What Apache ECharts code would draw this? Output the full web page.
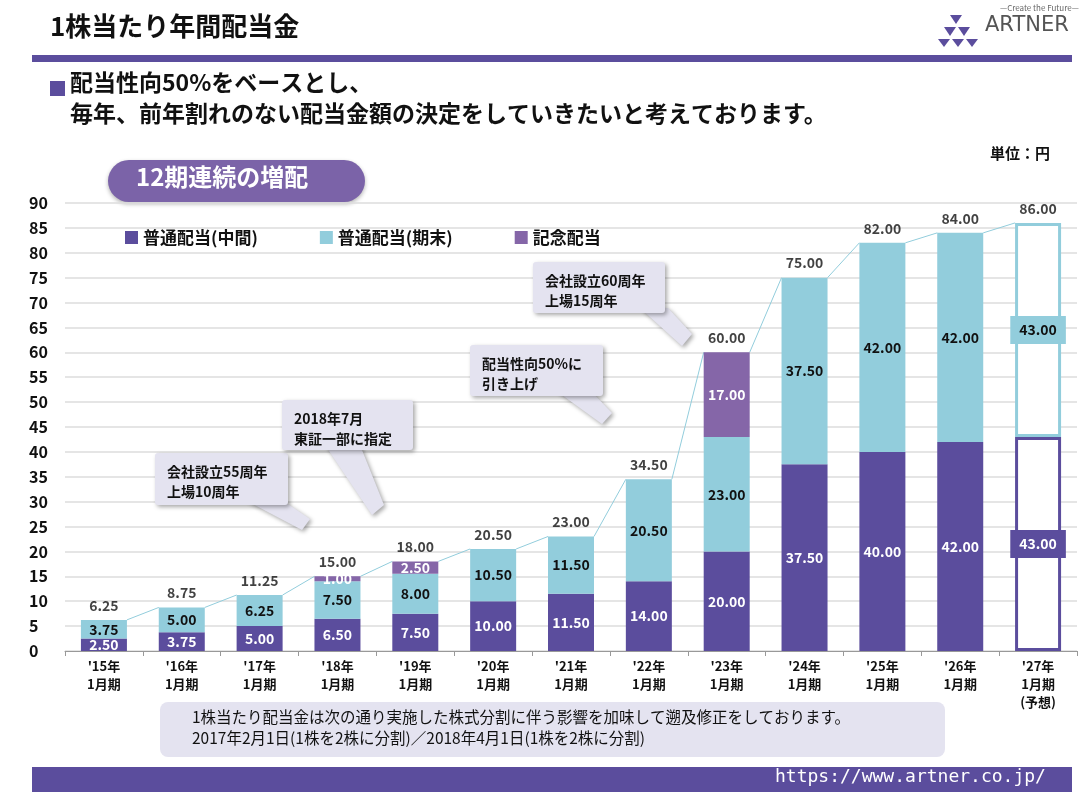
<!DOCTYPE html>
<html><head><meta charset="utf-8">
<script src="https://cdn.jsdelivr.net/npm/echarts@6/dist/echarts.min.js"></script>
<style>html,body{margin:0;padding:0;background:#fff}#c{width:1092px;height:792px}</style>
</head><body><div id="c"></div>
<script>
const categories = ["'15年\n1月期","'16年\n1月期","'17年\n1月期","'18年\n1月期","'19年\n1月期","'20年\n1月期","'21年\n1月期","'22年\n1月期","'23年\n1月期","'24年\n1月期","'25年\n1月期","'26年\n1月期","'27年\n1月期\n(予想)"];
const interim = [2.50,3.75,5.00,6.50,7.50,10.00,11.50,14.00,20.00,37.50,40.00,42.00,43.00];
const finalDiv = [3.75,5.00,6.25,7.50,8.00,10.50,11.50,20.50,23.00,37.50,42.00,42.00,43.00];
const commem = [0,0,0,1.00,2.50,0,0,0,17.00,0,0,0,0];
const totals = [6.25,8.75,11.25,15.00,18.00,20.50,23.00,34.50,60.00,75.00,82.00,84.00,86.00];

const C1='#5b4d9d', C2='#92cddc', C3='#8566a8', FONT='"Noto Sans CJK JP","Noto Sans",sans-serif';
const last = categories.length-1;
const BW = 46;
function mk(arr,color,txt,forecastBg){
  return arr.map((v,i)=>{
    if(i===last){
      return {value:v,itemStyle:{color:'#fff',borderColor:color,borderWidth:3},
        label:{show:true,color:txt,backgroundColor:forecastBg,padding:[8,9,6,9]}};
    }
    return {value:v,itemStyle:{color:color}};
  });
}
const chart = echarts.init(document.getElementById('c'));
function callout(x,y,w,h,poly,text){
  return [
    {type:'polygon',shape:{points:poly},style:{fill:'#e4e3f0',shadowBlur:4,shadowOffsetX:2,shadowOffsetY:2,shadowColor:'rgba(0,0,0,0.35)'},z:10},
    {type:'rect',shape:{x:x,y:y,width:w,height:h,r:3},style:{fill:'#e4e3f0',shadowBlur:4,shadowOffsetX:2,shadowOffsetY:2,shadowColor:'rgba(0,0,0,0.35)'},z:10},
    {type:'text',x:x+12,y:y+9,style:{text:text,font:'bold 14px '+FONT,fill:'#111',lineHeight:20},z:11}
  ];
}
const lbl = {show:true,position:'inside',fontFamily:FONT,fontWeight:'bold',fontSize:14};
chart.setOption({
  animation:false,
  grid:{left:65,right:15,top:203,bottom:141},
  legend:{top:224,left:120,itemGap:62,itemWidth:13,itemHeight:13,icon:'rect',
    textStyle:{fontFamily:FONT,fontWeight:'bold',fontSize:17,color:'#111'},
    data:['普通配当(中間)','普通配当(期末)','記念配当']},
  xAxis:{type:'category',data:categories,
    axisLine:{lineStyle:{color:'#999'}},axisTick:{show:true,lineStyle:{color:'#999'}},
    axisLabel:{fontFamily:FONT,fontWeight:'bold',fontSize:13,color:'#111',lineHeight:18,margin:6}},
  yAxis:{type:'value',min:0,max:90,interval:5,
    axisLabel:{fontFamily:FONT,fontWeight:'bold',fontSize:16,color:'#111',margin:36,align:'left'},
    splitLine:{lineStyle:{color:'#ddd',width:1.5}},axisLine:{show:false},axisTick:{show:false}},
  series:[
    {name:'conn',type:'custom',z:1,silent:true,data:totals.map((v,i)=>[i,v]),
      renderItem:function(params,api){
        const i=api.value(0);
        if(i>=last) return null;
        const a=api.coord([i,api.value(1)]);
        const b=api.coord([i+1,totals[i+1]]);
        return {type:'line',shape:{x1:a[0]+BW/2,y1:a[1],x2:b[0]-BW/2,y2:b[1]},style:{stroke:C2,lineWidth:1}};
      }},
    {name:'普通配当(中間)',type:'bar',stack:'a',barWidth:BW,z:3,data:mk(interim,C1,'#fff',C1),itemStyle:{color:C1},
      label:Object.assign({},lbl,{color:'#fff',formatter:p=>p.value.toFixed(2)})},
    {name:'普通配当(期末)',type:'bar',stack:'a',z:3,data:mk(finalDiv,C2,'#111',C2),itemStyle:{color:C2},
      label:Object.assign({},lbl,{color:'#111',formatter:p=>p.value.toFixed(2)})},
    {name:'記念配当',type:'bar',stack:'a',z:3,data:commem,itemStyle:{color:C3},
      label:Object.assign({},lbl,{color:'#fff',formatter:p=>p.value?p.value.toFixed(2):''})},
    {name:'totalLbl',type:'scatter',data:totals,symbolSize:1,itemStyle:{color:'transparent'},z:6,silent:true,
      label:{show:true,position:'top',distance:7,fontFamily:FONT,fontWeight:'bold',fontSize:14,color:'#111',
        formatter:p=>p.value.toFixed(2)}}
  ],
  graphic:[].concat(
    [{type:'text',left:50,top:13,style:{text:'1株当たり年間配当金',font:'bold 26px '+FONT,fill:'#111'}},
     {type:'rect',shape:{x:32,y:55,width:1040,height:7},style:{fill:C1}},
     {type:'text',left:1000,top:4,style:{text:'—Create the Future—',font:'8px '+FONT,fill:'#666'}},
     {type:'text',left:985,top:15,style:{text:'ARTNER',font:'21px "DejaVu Sans",sans-serif',fill:'#555'}},
     {type:'polygon',shape:{points:[[950,15],[962,15],[956,24]]},style:{fill:C1}},
     {type:'polygon',shape:{points:[[944,27],[956,27],[950,36]]},style:{fill:C1}},
     {type:'polygon',shape:{points:[[958,27],[970,27],[964,36]]},style:{fill:C1}},
     {type:'polygon',shape:{points:[[938,39],[950,39],[944,47]]},style:{fill:C1}},
     {type:'polygon',shape:{points:[[952,39],[964,39],[958,47]]},style:{fill:C1}},
     {type:'polygon',shape:{points:[[966,39],[978,39],[972,47]]},style:{fill:C1}},
     {type:'rect',shape:{x:50,y:81,width:15,height:15},style:{fill:C1}},
     {type:'text',left:70,top:71,style:{text:'配当性向50%をベースとし、',font:'bold 23px '+FONT,fill:'#111'}},
     {type:'text',left:70,top:102,style:{text:'毎年、前年割れのない配当金額の決定をしていきたいと考えております。',font:'bold 23px '+FONT,fill:'#111'}},
     {type:'text',left:990,top:146,style:{text:'単位：円',font:'bold 15px '+FONT,fill:'#111'}},
     {type:'rect',shape:{x:108,y:160,width:257,height:42,r:21},style:{fill:'#7b63a8',shadowBlur:4,shadowOffsetY:2,shadowColor:'rgba(0,0,0,0.3)'}},
     {type:'text',left:136,top:165,style:{text:'12期連続の増配',font:'bold 24px '+FONT,fill:'#fff'}},
     {type:'rect',shape:{x:160,y:702,width:785,height:55,r:8},style:{fill:'#e4e3f0'}},
     {type:'text',left:192,top:707,style:{text:'1株当たり配当金は次の通り実施した株式分割に伴う影響を加味して遡及修正をしております。\n2017年2月1日(1株を2株に分割)／2018年4月1日(1株を2株に分割)',font:'15.5px '+FONT,fill:'#111',lineHeight:21}},
     {type:'rect',shape:{x:32,y:767,width:1040,height:25},style:{fill:C1}},
     {type:'text',left:775,top:768,style:{text:'https://www.artner.co.jp/',font:'18px "DejaVu Sans Mono",monospace',fill:'#fff'}}
    ],
    callout(155,453,133,52,[[245,500],[282,500],[310,519],[302,530]],'会社設立55周年\n上場10周年'),
    callout(282,400,131,50,[[325,445],[360,445],[384,505],[372,515]],'2018年7月\n東証一部に指定'),
    callout(470,345,133,51,[[555,390],[590,390],[612,413],[602,424]],'配当性向50%に\n引き上げ'),
    callout(533,262,132,51,[[640,308],[668,308],[692,334],[682,346]],'会社設立60周年\n上場15周年')
  )
});
</script></body></html>
